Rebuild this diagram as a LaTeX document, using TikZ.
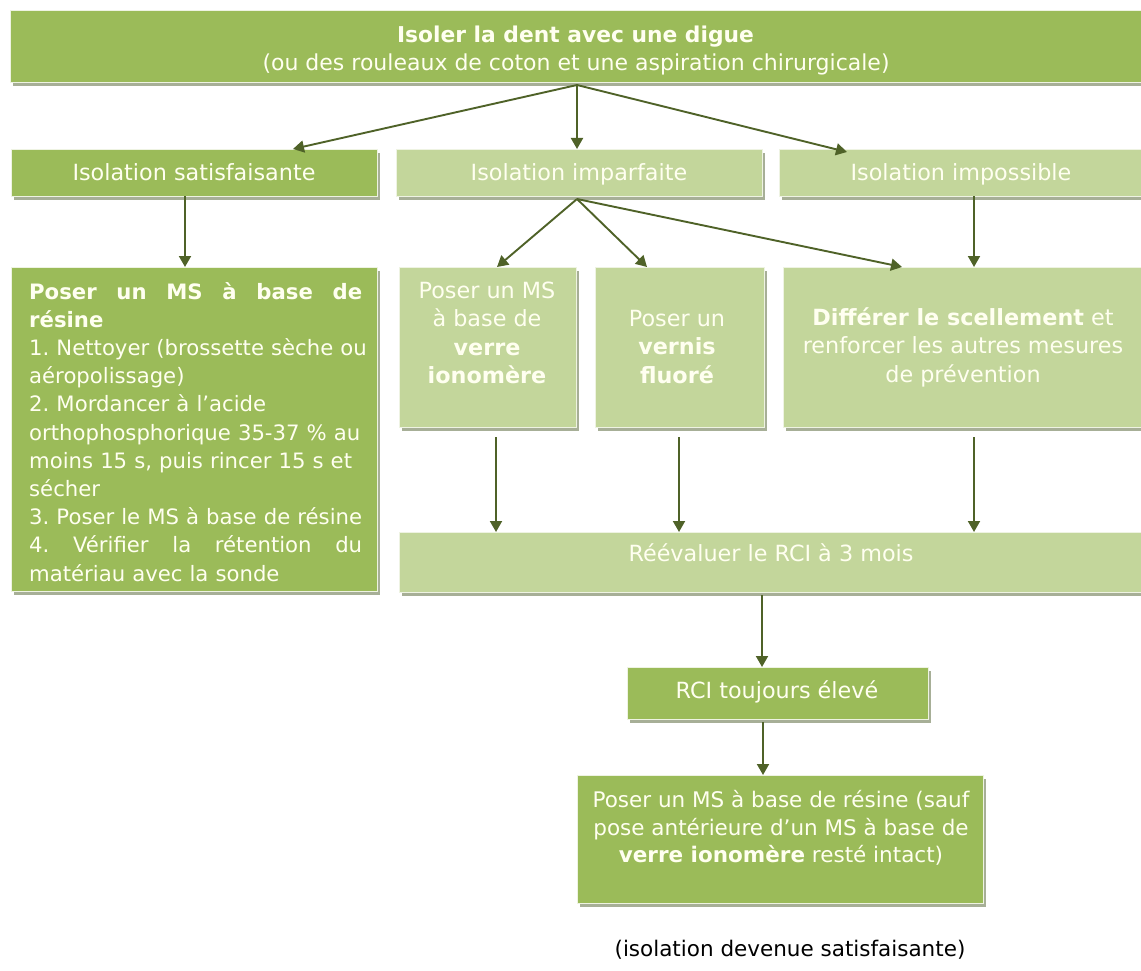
\documentclass[tikz,border=0pt]{standalone}
\usepackage{fontspec}
\setmainfont{DejaVu Sans}
\usetikzlibrary{arrows.meta}
\definecolor{dkgreen}{HTML}{9BBB59}
\definecolor{ltgreen}{HTML}{C3D69B}
\definecolor{arrowc}{HTML}{4F6228}
\definecolor{shadowc}{HTML}{A7AF97}
\definecolor{txtc}{RGB}{255,255,240}
\definecolor{edgec}{HTML}{EEF3E2}
\frenchspacing
\begin{document}
\begin{tikzpicture}[x=1pt,y=-1pt,
  box/.style={rectangle, inner sep=0pt, outer sep=0pt, draw=edgec, line width=0.8pt,
    preaction={fill=shadowc, draw=none, transform canvas={xshift=3pt,yshift=-4pt}}},
  dk/.style={box, fill=dkgreen},
  lt/.style={box, fill=ltgreen},
  txt/.style={text=txtc, inner sep=0pt, align=center, font=\fontsize{22.3}{28.5}\selectfont},
  arr/.style={draw=arrowc, line width=1.9pt, -{Triangle[length=11pt,width=12pt]}}]
\path[use as bounding box] (0,0) rectangle (1141,971);

% boxes
\node[dk, minimum width=1131pt, minimum height=72pt] (top) at (575.5,46) {};
\node[dk, minimum width=366pt, minimum height=47pt] (sat) at (194,172.5) {};
\node[lt, minimum width=366pt, minimum height=47pt] (imp) at (579,172.5) {};
\node[lt, minimum width=366pt, minimum height=47pt] (imposs) at (962,172.5) {};
\node[dk, minimum width=366pt, minimum height=324pt] (resine) at (194,429) {};
\node[lt, minimum width=177pt, minimum height=160pt] (verre) at (487.5,347) {};
\node[lt, minimum width=169pt, minimum height=160pt] (vernis) at (679.5,347) {};
\node[lt, minimum width=362pt, minimum height=160pt] (differ) at (964,347) {};
\node[lt, minimum width=746pt, minimum height=60pt] (reeval) at (772,562) {};
\node[dk, minimum width=301pt, minimum height=52pt] (rci) at (777.5,693) {};
\node[dk, minimum width=406pt, minimum height=128pt] (final) at (780,839) {};

% texts
\node[txt, anchor=base, font=\bfseries\fontsize{21.8}{27}\selectfont] (t1) at (575.5,43) {Isoler la dent avec une digue};
\node[txt, anchor=base, font=\fontsize{22}{27}\selectfont] (t2) at (576,71) {(ou des rouleaux de coton et une aspiration chirurgicale)};
\node[txt, anchor=base] (tsat) at (194,180) {Isolation satisfaisante};
\node[txt, anchor=base] (timp) at (579,180) {Isolation imparfaite};
\node[txt, anchor=base] (timposs) at (961,180) {Isolation impossible};
\node[txt, anchor=north west, align=left, text width=345pt, font=\fontsize{21.2}{28.2}\selectfont] (tres) at (29,282) {%
\makebox[333pt][l]{\bfseries Poser\hfill un\hfill MS\hfill à\hfill base\hfill de}\\
\textbf{résine}\\
1. Nettoyer (brossette sèche ou\\
aéropolissage)\\
2. Mordancer à l’acide\\
orthophosphorique 35-37 \% au\\
moins 15 s, puis rincer 15 s et\\
sécher\\
3. Poser le MS à base de résine\\
\makebox[333pt][l]{4.\hfill Vérifier\hfill la\hfill rétention\hfill du}\\
matériau avec la sonde};
\node[txt] (tverre) at (487,333) {Poser un MS\\à base de\\\textbf{verre}\\\textbf{ionomère}};
\node[txt] (tvernis) at (677,347) {Poser un\\\textbf{vernis}\\\textbf{fluoré}};
\node[txt] (tdiffer) at (963,347) {\textbf{Différer le scellement} et\\renforcer les autres mesures\\de prévention};
\node[txt, anchor=base] (treeval) at (771,561) {Réévaluer le RCI à 3 mois};
\node[txt, anchor=base] (trci) at (777,698) {RCI toujours élevé};
\node[txt, font=\fontsize{21.5}{27.5}\selectfont] (tfinal) at (781,828) {Poser un MS à base de résine (sauf\\pose antérieure d’un MS à base de\\\textbf{verre ionomère} resté intact)};
\node[inner sep=0pt, anchor=base, font=\fontsize{21.5}{28}\selectfont] (note) at (790,956) {(isolation devenue satisfaisante)};

% connectors
\draw[arr] ([xshift=1.5pt,yshift=-3pt]top.south) -- ([xshift=99pt]sat.north);
\draw[arr] ([xshift=1.5pt,yshift=-3pt]top.south) -- ([xshift=-2pt]imp.north);
\draw[arr] ([xshift=1.5pt,yshift=-3pt]top.south) -- ([xshift=-115pt,yshift=-3pt]imposs.north);
\draw[arr] ([xshift=-9pt]sat.south) -- ([xshift=-9pt]resine.north);
\draw[arr] ([xshift=-2pt,yshift=-3pt]imp.south) -- ([xshift=9.5pt]verre.north);
\draw[arr] ([xshift=-2pt,yshift=-3pt]imp.south) -- ([xshift=-32.5pt]vernis.north);
\draw[arr] ([xshift=-2pt,yshift=-3pt]imp.south) -- ([xshift=-62pt]differ.north);
\draw[arr] ([xshift=12pt]imposs.south) -- ([xshift=10pt]differ.north);
\draw[arr] ([xshift=8.5pt,yshift=-10pt]verre.south) -- ([xshift=-276pt]reeval.north);
\draw[arr] ([xshift=-0.5pt,yshift=-10pt]vernis.south) -- ([xshift=-93pt]reeval.north);
\draw[arr] ([xshift=10pt,yshift=-10pt]differ.south) -- ([xshift=202pt]reeval.north);
\draw[arr] ([xshift=-10pt,yshift=-3pt]reeval.south) -- ([xshift=-15.5pt]rci.north);
\draw[arr] ([xshift=-14.5pt,yshift=-3pt]rci.south) -- ([xshift=-17pt]final.north);
\end{tikzpicture}
\end{document}
